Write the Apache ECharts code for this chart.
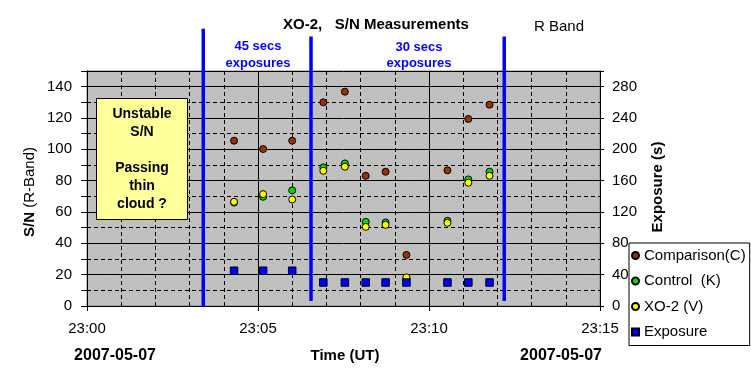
<!DOCTYPE html>
<html>
<head>
<meta charset="utf-8">
<script src="https://cdn.jsdelivr.net/npm/echarts@6/dist/echarts.min.js"></script>
<style>html,body{margin:0;padding:0;background:#fff;}#c{width:751px;height:385px;}</style>
</head>
<body>
<div id="c"></div>
<script>
// minutes after 23:00 UT, 2007-05-07
const times      = [4.30, 5.15, 6.00, 6.91, 7.54, 8.15, 8.73, 9.34, 10.54, 11.15, 11.77];
const comparison = [105.5, 100.2, 105.5, 130.0, 136.8, 83.1, 85.7, 32.6, 86.6, 119.4, 128.5];
const control    = [66.0, 69.7, 73.8, 88.5, 91.0, 53.7, 53.3, 17.5, 54.4, 80.8, 85.7];
const xo2        = [66.5, 71.4, 68.0, 86.3, 88.9, 50.5, 51.8, 18.3, 53.1, 78.7, 83.1];
const exposure   = [45, 45, 45, 30, 30, 30, 30, 30, 30, 30, 30];
// exposure-regime dividers: [time, bottom S/N, top S/N]
const dividers   = [[3.40, -0.6, 177], [6.55, 3.2, 172], [12.20, 3.2, 172]];
const xTickLabels = ['23:00', '23:05', '23:10', '23:15'];

const FONT = '"Liberation Sans", Arial, sans-serif';
function pair(ys) { return times.map((t, i) => [t, ys[i]]); }

function bgPattern() {
  const c = document.createElement('canvas');
  c.width = 10; c.height = 10;
  const g = c.getContext('2d');
  g.fillStyle = '#c0c0c0'; g.fillRect(0, 0, 10, 10);
  g.fillStyle = '#98c898';
  g.fillRect(2, 3, 1, 1); g.fillRect(7, 8, 1, 1);
  return { image: c, repeat: 'repeat' };
}

const chart = echarts.init(document.getElementById('c'), null, { renderer: 'canvas' });

const dividerSeries = dividers.map(d => ({
  type: 'line', clip: false, silent: true, symbol: 'none', z: 3,
  data: [[d[0], d[1]], [d[0], d[2]]],
  lineStyle: { color: '#0000ff', width: 3.5 }
}));

function scatter(name, ys, color, symbol, yIdx) {
  return {
    name, type: 'scatter', data: pair(ys), yAxisIndex: yIdx,
    symbol, symbolSize: symbol === 'rect' ? 7.5 : 7, z: 5,
    itemStyle: { color, borderColor: '#000', borderWidth: 1, opacity: 1 }
  };
}

const txt = (x, y, text, font, color, align) => ({
  type: 'text', x, y, z: 10,
  style: { text, font, fill: color || '#000', align: align || 'center', textAlign: align || 'center', verticalAlign: 'middle', textVerticalAlign: 'middle' }
});

chart.setOption({
  animation: false,
  backgroundColor: '#fff',
  grid: { left: 87, right: 151, top: 71, bottom: 79, show: true, backgroundColor: bgPattern(), borderColor: '#808080', borderWidth: 1 },
  xAxis: {
    type: 'value', min: 0, max: 15, interval: 5,
    axisLine: { lineStyle: { color: '#000', width: 1 } },
    axisTick: { show: true, length: 5, lineStyle: { color: '#000' } },
    axisLabel: { color: '#000', fontFamily: FONT, fontSize: 15, margin: 15, formatter: v => xTickLabels[v / 5] },
    splitLine: { show: true, lineStyle: { color: '#000', width: 1 } },
    minorTick: { show: false, splitNumber: 5 },
    minorSplitLine: { show: true, lineStyle: { color: '#000', width: 1, type: [4, 3] } }
  },
  yAxis: [
    {
      type: 'value', min: 0, max: 150, interval: 10, position: 'left',
      axisLine: { show: true, lineStyle: { color: '#000' } },
      axisTick: { show: true, length: 6, lineStyle: { color: '#000' } },
      axisLabel: { color: '#000', fontFamily: FONT, fontSize: 15, margin: 15, formatter: v => (v % 20 === 0 && v < 150) ? String(v) : '' },
      splitLine: { show: true, lineStyle: { color: '#000', width: 1, type: [4, 3] } }
    },
    {
      type: 'value', min: 0, max: 300, interval: 40, position: 'right',
      axisLine: { show: true, lineStyle: { color: '#000' } },
      axisTick: { show: true, length: 4, lineStyle: { color: '#000' } },
      axisLabel: { color: '#000', fontFamily: FONT, fontSize: 15, margin: 12, formatter: v => v < 300 ? String(v) : '' },
      splitLine: { show: false }
    },
    {
      type: 'value', min: 0, max: 150, interval: 20, position: 'left',
      axisLine: { show: false }, axisTick: { show: false }, axisLabel: { show: false },
      splitLine: { show: true, lineStyle: { color: '#000', width: 1 } }
    }
  ],
  legend: {
    orient: 'vertical', left: 629, top: 243,
    data: ['Comparison(C)', 'Control  (K)', 'XO-2 (V)', 'Exposure'],
    itemWidth: 7, itemHeight: 7, itemGap: 10.5,
    padding: [5, 4, 6, 2],
    backgroundColor: '#fff', borderColor: '#000', borderWidth: 1, borderRadius: 0,
    textStyle: { color: '#000', fontFamily: FONT, fontSize: 15 },
    selectedMode: false
  },
  series: [
    ...dividerSeries,
    scatter('Comparison(C)', comparison, '#993300', 'circle', 0),
    scatter('Control  (K)', control, '#00e000', 'circle', 0),
    scatter('XO-2 (V)', xo2, '#ffff00', 'circle', 0),
    scatter('Exposure', exposure, '#0000ff', 'rect', 1)
  ],
  graphic: [
    txt(376, 25, 'XO-2,   S/N Measurements', 'bold 15px ' + FONT),
    txt(534, 27, 'R Band', '15px ' + FONT, '#000', 'left'),
    txt(258, 46, '45 secs', 'bold 13px ' + FONT, '#0000ff'),
    txt(258, 63, 'exposures', 'bold 13px ' + FONT, '#0000ff'),
    txt(419, 47, '30 secs', 'bold 13px ' + FONT, '#0000ff'),
    txt(419, 63.5, 'exposures', 'bold 13px ' + FONT, '#0000ff'),
    { type: 'rect', z: 9, shape: { x: 96.5, y: 98.5, width: 91, height: 121 }, style: { fill: '#ffff99', stroke: '#000', lineWidth: 1 } },
    txt(142, 114, 'Unstable', 'bold 14px ' + FONT),
    txt(142, 132.5, 'S/N', 'bold 14px ' + FONT),
    txt(142, 168, 'Passing', 'bold 14px ' + FONT),
    txt(142, 186.5, 'thin', 'bold 14px ' + FONT),
    txt(142, 204, 'cloud ?', 'bold 14px ' + FONT),
    {
      type: 'text', x: 30, y: 192, rotation: Math.PI / 2, z: 10,
      style: { text: '{b|S/N} (R-Band)', font: '15px ' + FONT, fill: '#000', align: 'center', textAlign: 'center', verticalAlign: 'middle', textVerticalAlign: 'middle',
        rich: { b: { fontWeight: 'bold', fontSize: 15, fontFamily: FONT, fill: '#000' } } }
    },
    { type: 'text', x: 658, y: 187, rotation: Math.PI / 2, z: 10,
      style: { text: 'Exposure (s)', font: 'bold 15px ' + FONT, fill: '#000', align: 'center', textAlign: 'center', verticalAlign: 'middle', textVerticalAlign: 'middle' } },
    txt(115, 356, '2007-05-07', 'bold 16px ' + FONT),
    txt(345, 356, 'Time (UT)', 'bold 15px ' + FONT),
    txt(561, 356, '2007-05-07', 'bold 16px ' + FONT)
  ]
});
</script>
</body>
</html>
